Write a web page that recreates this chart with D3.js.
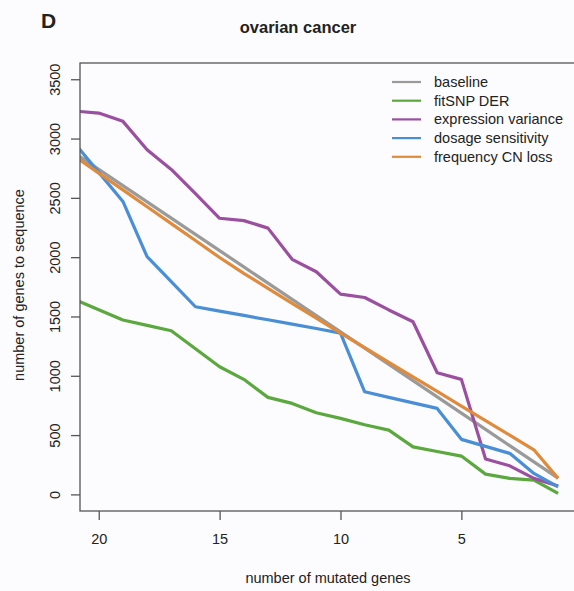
<!DOCTYPE html>
<html>
<head>
<meta charset="utf-8">
<script src="https://cdn.jsdelivr.net/npm/d3@7"></script>
<style>
  body { margin: 0; background: #fcfcfe; }
  text { font-family: "Liberation Sans", Arial, sans-serif; fill: #222; }
</style>
</head>
<body>
<div id="chart-container"></div>
<script>
// chart data
const nGenes = [21, 20, 19, 18, 17, 16, 15, 14, 13, 12, 11, 10, 9, 8, 7, 6, 5, 4, 3, 2, 1];
const baseline = [2877, 2740, 2603, 2466, 2329, 2192, 2055, 1918, 1781, 1644, 1507, 1370, 1233, 1096, 959, 822, 685, 548, 411, 274, 137];
const fitSNP = [1644, 1557, 1470, 1425, 1380, 1228, 1076, 970, 818, 767, 688, 641, 587, 542, 401, 362, 323, 171, 135, 121, 8];
const exprVariance = [3232, 3215, 3145, 2905, 2740, 2535, 2328, 2308, 2245, 1982, 1877, 1689, 1660, 1555, 1456, 1026, 970, 298, 241, 135, 70];
const dosage = [2960, 2715, 2470, 2004, 1793, 1582, 1545, 1509, 1472, 1436, 1399, 1360, 865, 818, 772, 725, 464, 405, 346, 177, 64];
const cnLoss = [2851, 2709, 2567, 2425, 2283, 2140, 1997, 1863, 1737, 1611, 1486, 1360, 1237, 1114, 991, 868, 745, 622, 499, 376, 135];

const seriesNames = ["baseline", "fitSNP DER", "expression variance", "dosage sensitivity", "frequency CN loss"];
const seriesColors = ["#9a9a9a", "#5aa83e", "#9a4f9f", "#4a8ed6", "#e08a3c"];
const yTicks = [0, 500, 1000, 1500, 2000, 2500, 3000, 3500];
const xTicks = [20, 15, 10, 5];

const svgWidth = 574;
const svgHeight = 591;
const margin = { top: 63, right: -1, bottom: 80, left: 80 };
const width = svgWidth - margin.left - margin.right;
const height = svgHeight - margin.top - margin.bottom;

const svg = d3.select("#chart-container")
    .append("svg")
    .attr("width", svgWidth)
    .attr("height", svgHeight);

const g = svg.append("g")
    .attr("transform", `translate(${margin.left},${margin.top})`);

// x runs backwards, like the original R plot
const x = d3.scaleLinear().domain([20.775, 0.3]).range([0, width]);
const y = d3.scaleLinear().domain([-140, 3637]).range([height, 0]);

g.append("clipPath").attr("id", "plot-clip")
    .append("rect").attr("width", width).attr("height", height);

const allSeries = [baseline, fitSNP, exprVariance, dosage, cnLoss];

const line = d3.line()
    .x(d => x(d[0]))
    .y(d => y(d[1]));

allSeries.forEach(function (vals, i) {
    g.append("path")
        .datum(nGenes.map((n, j) => [n, vals[j]]))
        .attr("clip-path", "url(#plot-clip)")
        .attr("fill", "none")
        .attr("stroke", seriesColors[i])
        .attr("stroke-width", 3.2)
        .attr("stroke-linejoin", "round")
        .attr("d", line);
});

// frame
g.append("rect")
    .attr("width", width)
    .attr("height", height)
    .attr("fill", "none")
    .attr("stroke", "#555")
    .attr("stroke-width", 1.3);

// axes
const yAxis = g.append("g")
    .call(d3.axisLeft(y).tickValues(yTicks).tickSize(9).tickFormat(d3.format("d")));
yAxis.select(".domain").remove();
yAxis.selectAll("line").attr("stroke", "#555").attr("stroke-width", 1.3);
// R style: labels turned to read upwards
yAxis.selectAll("text")
    .attr("font-size", 14.5)
    .attr("fill", "#222")
    .attr("transform", "rotate(-90)")
    .attr("x", 0)
    .attr("y", -20)
    .attr("dy", 0)
    .attr("text-anchor", "middle");

const xAxis = g.append("g")
    .attr("transform", `translate(0,${height})`)
    .call(d3.axisBottom(x).tickValues(xTicks).tickSize(9).tickPadding(14));
xAxis.select(".domain").remove();
xAxis.selectAll("line").attr("stroke", "#555").attr("stroke-width", 1.3);
xAxis.selectAll("text").attr("font-size", 14.5).attr("fill", "#222");

// legend
const legend = g.append("g").attr("transform", "translate(312,19)");
seriesNames.forEach(function (name, i) {
    legend.append("line")
        .attr("x1", 0).attr("x2", 29)
        .attr("y1", i * 18.7).attr("y2", i * 18.7)
        .attr("stroke", seriesColors[i])
        .attr("stroke-width", 2.2);
    legend.append("text")
        .text(name)
        .attr("x", 42)
        .attr("y", i * 18.7 + 5)
        .attr("font-size", 14.5);
});

// labels
svg.append("text")
    .text("ovarian cancer")
    .attr("x", 298)
    .attr("y", 33)
    .attr("text-anchor", "middle")
    .attr("font-size", 16.5)
    .attr("font-weight", "bold");

svg.append("text")
    .text("D")
    .attr("x", 41)
    .attr("y", 28)
    .attr("font-size", 21)
    .attr("font-weight", "bold");

svg.append("text")
    .text("number of mutated genes")
    .attr("x", 328)
    .attr("y", 583)
    .attr("text-anchor", "middle")
    .attr("font-size", 14.5);

svg.append("text")
    .text("number of genes to sequence")
    .attr("transform", "translate(24,285) rotate(-90)")
    .attr("text-anchor", "middle")
    .attr("font-size", 14.5);
</script>
</body>
</html>
